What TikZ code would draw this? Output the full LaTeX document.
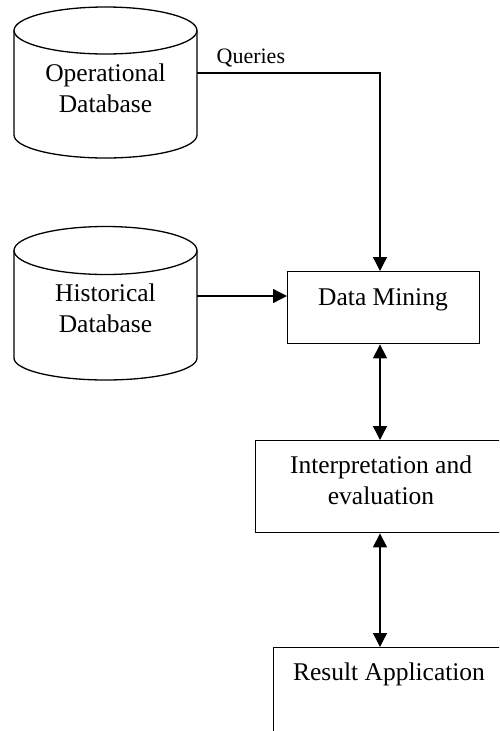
\documentclass[tikz,border=0pt]{standalone}
\usepackage{fontspec}
\setmainfont{Liberation Serif}
\usetikzlibrary{arrows.meta}
\begin{document}
\begin{tikzpicture}[x=1pt,y=-1pt,
  line width=1.3pt,
  txt/.style={inner sep=0pt,font=\fontsize{25.5}{31}\selectfont,align=center},
  boxnode/.style={draw,line width=1.4pt,inner sep=0pt,anchor=north west},
  arr/.style={-{Triangle[length=14pt,width=14pt]}},
  darr/.style={{Triangle[length=14pt,width=14pt]}-{Triangle[length=14pt,width=14pt]}}]
\clip (0,0) rectangle (499,731);
% Operational database cylinder
\draw (14,30.5) -- (14,135) arc[start angle=180,end angle=0,x radius=91.5,y radius=23] -- (197,30.5);
\draw (105.5,30.5) ellipse[x radius=91.5,y radius=23.5];
\node[txt] (op) at (105.5,88) {Operational\\Database};
\coordinate (opE) at (197,73);
% Historical database cylinder
\draw (14,250.5) -- (14,358) arc[start angle=180,end angle=0,x radius=91.5,y radius=22] -- (197,250.5);
\draw (105.5,250.5) ellipse[x radius=91.5,y radius=24];
\node[txt] (hist) at (105.5,308) {Historical\\Database};
\coordinate (hiE) at (197,296);
% boxes
\node[boxnode,minimum width=192pt,minimum height=72pt] (dm) at (287,271) {};
\node[txt,anchor=base] (dmt) at (383,305) {Data Mining};
\node[boxnode,minimum width=252pt,minimum height=92pt] (ie) at (255,440) {};
\node[txt,anchor=north] (iet) at (381,455.5) {Interpretation and\\evaluation};
\node[boxnode,minimum width=232pt,minimum height=120pt] (ra) at (273,647) {};
\node[txt,anchor=base] (rat) at (389,680) {Result Application};
\coordinate (vx) at (380,0);
% connectors
\draw[arr] (opE) -- (opE -| vx) -- (dm.north -| vx);
\node[inner sep=0pt,anchor=base west,font=\fontsize{22}{26}\selectfont] (q) at (216,63) {Queries};
\draw[arr] (hiE) -- (hiE -| dm.west);
\draw[darr] (dm.south -| vx) -- (ie.north -| vx);
\draw[darr] (ie.south -| vx) -- (ra.north -| vx);
\end{tikzpicture}
\end{document}
